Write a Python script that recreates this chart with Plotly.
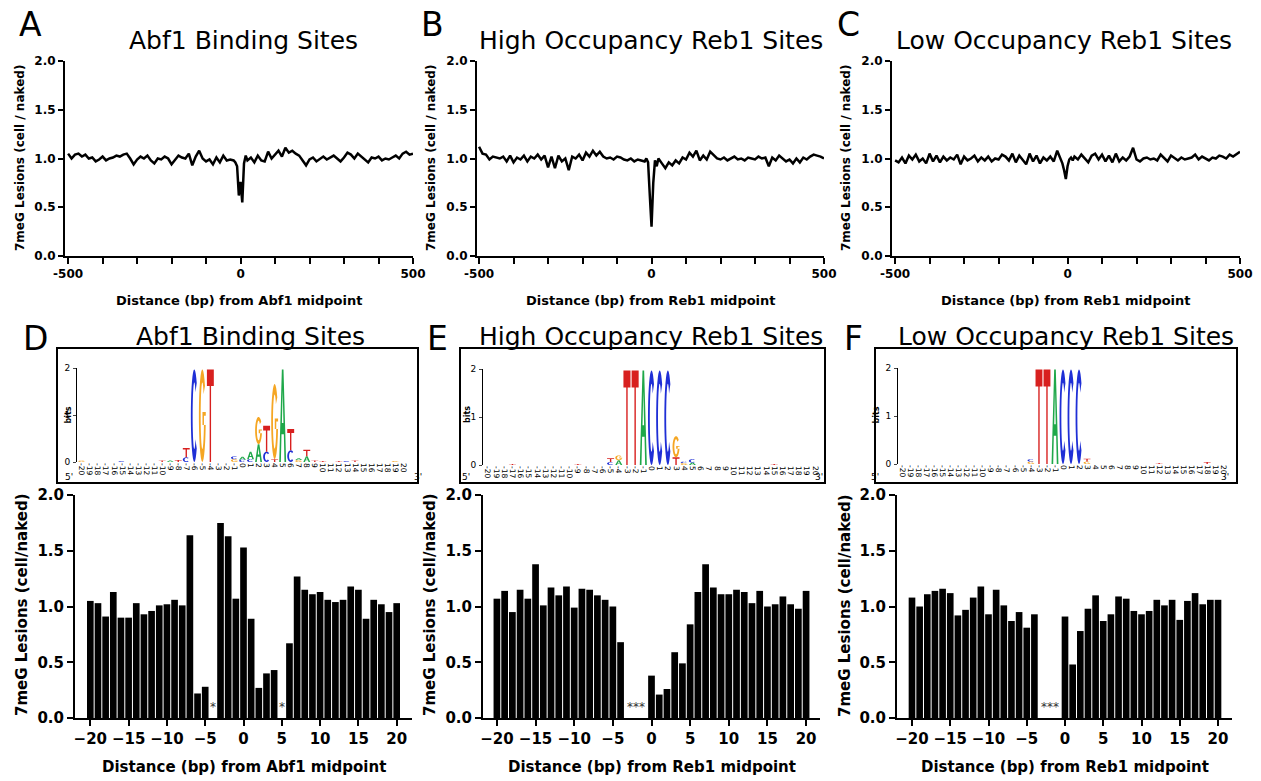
import math
import plotly.graph_objects as go

W, H = 1261, 781
PAD = 0
FW, FH = W - 2 * PAD, H - 2 * PAD

# ---------------- DATA ----------------
top_x = list(range(-500, -29, 10)) + list(range(-20, 21, 5)) + list(range(30, 501, 10))

abf1_profile = [
    1.05, 1.00, 1.04, 1.05, 1.02, 1.04, 1.00, 1.01, 0.97, 0.99,
    1.02, 0.98, 1.00, 1.01, 1.03, 1.02, 1.04, 1.05, 1.00, 0.94,
    0.99, 1.02, 1.00, 1.03, 0.98, 0.95, 1.00, 0.99, 1.02, 1.00,
    0.94, 0.99, 1.03, 1.01, 1.00, 1.05, 0.93, 1.02, 1.08, 1.00,
    0.97, 0.99, 0.94, 1.01, 0.96, 1.03, 0.98, 0.99,
    0.98, 0.96, 0.92, 0.62, 0.76, 0.55, 0.95, 1.03, 0.98,
    1.01, 0.96, 1.03, 0.98, 0.97, 1.07, 1.00, 1.04, 1.08, 1.02,
    1.11, 1.06, 1.08, 1.05, 1.03, 0.98, 0.93, 0.99, 1.01, 0.97,
    1.00, 1.02, 0.99, 1.01, 1.03, 1.00, 0.97, 1.01, 1.06, 1.04,
    1.00, 1.05, 1.02, 0.99, 0.96, 1.01, 1.00, 1.02, 0.98, 1.00,
    0.99, 1.01, 1.03, 1.00, 1.05, 1.07, 1.04, 1.05,
]

reb1_high_profile = [
    1.12, 1.05, 1.04, 0.99, 1.02, 1.01, 1.00, 1.02, 0.97, 1.03,
    0.96, 1.01, 0.99, 1.03, 0.97, 1.02, 1.00, 1.04, 0.99, 1.03,
    0.91, 1.02, 0.90, 1.03, 0.97, 1.00, 0.88, 1.02, 1.00, 1.04,
    0.98, 1.06, 1.02, 1.08, 1.03, 1.07, 1.02, 1.00, 1.01, 0.99,
    1.02, 1.01, 0.99, 0.98, 1.00, 0.97, 0.99, 0.98,
    0.97, 1.00, 0.96, 0.62, 0.30, 0.75, 0.98, 0.92, 1.00,
    0.95, 0.90, 0.96, 0.93, 0.98, 0.95, 1.01, 0.99, 1.06, 1.02,
    1.08, 0.98, 1.03, 0.99, 1.07, 1.03, 1.00, 0.99, 1.01, 0.98,
    1.00, 1.02, 0.99, 1.00, 0.98, 1.01, 1.00, 0.99, 1.02, 1.00,
    1.01, 0.92, 1.01, 0.98, 1.03, 1.00, 0.97, 0.99, 0.95, 1.00,
    0.96, 1.01, 0.99, 1.02, 1.04, 1.03, 1.02, 1.00,
]

reb1_low_profile = [
    0.98, 0.96, 1.01, 0.95, 1.03, 0.99, 1.04, 0.97, 1.00, 0.95,
    1.05, 0.97, 1.03, 0.96, 1.02, 0.98, 1.01, 0.99, 1.04, 0.94,
    1.02, 0.98, 1.00, 1.03, 0.97, 1.01, 0.98, 1.02, 0.97, 1.00,
    0.99, 1.04, 1.02, 0.98, 1.05, 0.96, 1.03, 0.99, 0.94, 1.05,
    0.97, 1.03, 0.95, 1.01, 0.98, 1.02, 0.97, 1.08,
    0.99, 0.95, 0.88, 0.79, 0.92, 0.99, 1.01, 0.98, 1.02,
    0.99, 1.04, 1.00, 0.96, 1.03, 1.05, 0.99, 1.04, 0.97, 1.03,
    0.96, 1.05, 0.97, 1.01, 0.98, 1.02, 1.11, 0.99, 0.97, 1.00,
    1.01, 0.99, 1.00, 0.98, 1.04, 1.00, 0.97, 1.03, 1.00, 0.98,
    1.01, 0.99, 1.00, 1.01, 1.04, 0.99, 1.02, 1.00, 0.98, 1.01,
    1.00, 1.03, 1.02, 1.00, 1.04, 1.02, 1.05, 1.07,
]

bar_x = list(range(-20, 21))

abf1_bars = [1.05, 1.03, 0.91, 1.13, 0.90, 0.90, 1.03, 0.93, 0.96, 1.01,
             1.02, 1.06, 1.01, 1.64, 0.22, 0.28, 0.00, 1.75, 1.63, 1.07,
             1.53, 0.89, 0.27, 0.40, 0.43, 0.00, 0.67, 1.27, 1.15, 1.11,
             1.13, 1.06, 1.04, 1.06, 1.18, 1.15, 0.89, 1.06, 1.02, 0.95, 1.03]

reb1_high_bars = [1.07, 1.14, 0.95, 1.15, 1.07, 1.38, 1.01, 1.17, 1.10, 1.18,
                  0.99, 1.16, 1.15, 1.10, 1.06, 1.00, 0.68, 0.00, 0.00, 0.00,
                  0.38, 0.21, 0.26, 0.59, 0.49, 0.84, 1.13, 1.38, 1.17, 1.11,
                  1.11, 1.15, 1.13, 1.03, 1.14, 1.00, 1.02, 1.09, 1.02, 0.98, 1.14]

reb1_low_bars = [1.08, 1.00, 1.11, 1.14, 1.16, 1.12, 0.92, 0.97, 1.08, 1.18,
                 0.93, 1.15, 1.01, 0.87, 0.95, 0.81, 0.93, 0.00, 0.00, 0.00,
                 0.91, 0.48, 0.78, 0.98, 1.10, 0.87, 0.93, 1.09, 1.07, 0.96,
                 0.93, 0.96, 1.06, 1.01, 1.06, 0.88, 1.05, 1.12, 1.02, 1.06, 1.06]

# significance marks (position, label)
abf1_stars = [(-4, "*"), (5, "*")]
reb1_high_stars = [(-2, "***")]
reb1_low_stars = [(-2, "***")]

# sequence logos: (position, letter, bits), stacked bottom to top in listed order
abf1_logo = [
    (-20, "G", 0.03), (-15, "C", 0.02), (-10, "T", 0.03), (-9, "A", 0.03), (-8, "T", 0.04),
    (-7, "C", 0.10), (-7, "T", 0.20),
    (-6, "C", 1.97), (-5, "G", 1.97), (-4, "T", 1.97),
    (-1, "G", 0.06), (-1, "C", 0.06),
    (0, "C", 0.05), (0, "A", 0.06),
    (1, "C", 0.06), (1, "A", 0.16),
    (2, "A", 0.38), (2, "G", 0.58),
    (3, "C", 0.22), (3, "T", 0.55),
    (4, "T", 0.06), (4, "G", 1.60),
    (5, "A", 1.97),
    (6, "C", 0.25), (6, "T", 0.45),
    (7, "G", 0.04), (7, "A", 0.04),
    (8, "A", 0.12), (8, "T", 0.14),
    (9, "T", 0.03), (10, "T", 0.02), (12, "T", 0.02), (13, "C", 0.02), (14, "T", 0.03), (19, "G", 0.02),
]

reb1_high_logo = [
    (-17, "T", 0.02), (-9, "T", 0.02),
    (-5, "C", 0.06), (-5, "T", 0.08),
    (-4, "A", 0.10), (-4, "G", 0.10),
    (-3, "T", 1.97), (-2, "T", 1.97), (-1, "A", 1.97),
    (0, "C", 1.97), (1, "C", 1.97), (2, "C", 1.97),
    (3, "T", 0.16), (3, "G", 0.44),
    (4, "G", 0.04), (4, "C", 0.03),
    (5, "A", 0.05), (5, "C", 0.07),
    (15, "T", 0.02),
]

reb1_low_logo = [
    (-4, "G", 0.05), (-4, "C", 0.05),
    (-3, "T", 1.97), (-2, "T", 1.97), (-1, "A", 1.97),
    (0, "C", 1.97), (1, "C", 1.97), (2, "C", 1.97),
    (3, "G", 0.05), (3, "T", 0.06),
    (12, "T", 0.02), (18, "T", 0.04),
]

panel_titles = ["Abf1 Binding Sites", "High Occupancy Reb1 Sites", "Low Occupancy Reb1 Sites"]
x_titles = ["Distance (bp) from Abf1 midpoint", "Distance (bp) from Reb1 midpoint",
            "Distance (bp) from Reb1 midpoint"]

# ---------------- STYLE / LAYOUT ----------------
FONT = "DejaVu Sans"
LETTER_COLORS = {"A": "#1fa84a", "C": "#1f2fd6", "G": "#f5a623", "T": "#d8201f"}


def fx(p):
    return (p - PAD) / FW


def fy(p):
    return 1 - (p - PAD) / FH


def letter_path(ch, xc, y0, h, w=0.86):
    x0 = xc - w / 2

    def P(u, v):
        return f"{x0 + u * w:.4f},{y0 + v * h:.4f}"

    def poly(pts):
        return "M" + "L".join(P(u, v) for u, v in pts) + "Z"

    def ring(a0, a1, n=28):
        outer = []
        inner = []
        for i in range(n + 1):
            a = math.radians(a0 + (a1 - a0) * i / n)
            outer.append((0.5 + 0.5 * math.cos(a), 0.5 + 0.5 * math.sin(a)))
            inner.append((0.5 + 0.24 * math.cos(a), 0.5 + 0.36 * math.sin(a)))
        return outer + inner[::-1]

    if ch == "T":
        return poly([(0, 1), (1, 1), (1, 0.82), (0.6, 0.82), (0.6, 0), (0.4, 0), (0.4, 0.82), (0, 0.82)])
    if ch == "A":
        outer = poly([(0, 0), (0.38, 1), (0.62, 1), (1, 0), (0.76, 0), (0.67, 0.3), (0.33, 0.3), (0.24, 0)])
        hole = poly([(0.39, 0.42), (0.61, 0.42), (0.5, 0.78)])
        return outer + hole
    if ch == "C":
        return poly(ring(45, 315))
    if ch == "G":
        return poly(ring(40, 360)) + poly([(0.52, 0.40), (1, 0.40), (1, 0.54), (0.52, 0.54)])
    return ""


fig = go.Figure()

top_profiles = [abf1_profile, reb1_high_profile, reb1_low_profile]
bar_sets = [abf1_bars, reb1_high_bars, reb1_low_bars]
star_sets = [abf1_stars, reb1_high_stars, reb1_low_stars]
logos = [abf1_logo, reb1_high_logo, reb1_low_logo]

# pixel geometry (screen pixels)
top_dom = [(65, 413, [-509, 500]), (477, 824, [-506, 500]), (892, 1240, [-509, 500])]
bar_dom = [(75, 412, [-22, 22]), (483, 820, [-21.8, 21.8]), (897, 1232, [-21.96, 21.83])]
logo_dom = [(77, 408, 368, 462), (483, 820, 369, 465), (898, 1228, 368, 464)]
logo_box = [(57, 418), (460, 825), (875, 1237)]
letter_pos = [(30, 24), (432, 24), (848, 24)]
letter_pos2 = [(35, 338), (437, 338), (853, 338)]
title_x = [243, 651, 1064]
title_x2 = [251, 651, 1066]
ylab_x_top = [20, 431, 846]
ylab_x_bot = [22, 430, 845]

axis_common = dict(showgrid=False, zeroline=False, showline=True, linecolor="black", automargin=False,
                   linewidth=2, ticks="outside", tickcolor="black", tickwidth=2)

layout = dict(width=FW, height=FH, margin=dict(l=0, r=0, t=0, b=0, autoexpand=False),
              plot_bgcolor="white", paper_bgcolor="white", showlegend=False,
              font=dict(family=FONT, color="black"), bargap=0.13)
annotations = []
shapes = []

for i in range(3):
    # ---- top line chart ----
    n = i + 1
    sfx = '' if n == 1 else str(n)
    x0, x1, xr = top_dom[i]
    layout[f"xaxis{sfx}"] = dict(axis_common, domain=[fx(x0), fx(x1)], range=xr, anchor=f"y{sfx}",
                                 tickvals=list(range(-500, 501, 100)),
                                 ticktext=["-500", "", "", "", "", "0", "", "", "", "", "500"],
                                 ticklen=6, tickfont=dict(size=12, weight="bold"))
    layout[f"yaxis{sfx}"] = dict(axis_common, domain=[fy(256), fy(61)], range=[0, 2], anchor=f"x{sfx}",
                                 tickvals=[0, 0.5, 1, 1.5, 2], ticktext=["0.0", "0.5", "1.0", "1.5", "2.0"],
                                 ticklen=5, tickfont=dict(size=12, weight="bold"))
    fig.add_trace(go.Scatter(x=top_x, y=top_profiles[i], mode="lines",
                             line=dict(color="black", width=2.5),
                             xaxis=f"x{sfx}", yaxis=f"y{sfx}"))
    annotations.append(dict(text=panel_titles[i], x=fx(title_x[i]), y=fy(40), xref="paper", yref="paper",
                            showarrow=False, font=dict(size=25, family=FONT), xanchor="center", yanchor="middle"))
    annotations.append(dict(text="ABC"[i], x=fx(letter_pos[i][0]), y=fy(letter_pos[i][1]), xref="paper",
                            yref="paper", showarrow=False, font=dict(size=33, family=FONT),
                            xanchor="center", yanchor="middle"))
    annotations.append(dict(text=f"<b>{x_titles[i]}</b>", x=fx((x0 + x1) / 2), y=fy(300), xref="paper",
                            yref="paper", showarrow=False, font=dict(size=13, family=FONT),
                            xanchor="center", yanchor="middle"))
    annotations.append(dict(text="<b>7meG Lesions (cell / naked)</b>", x=fx(ylab_x_top[i]), y=fy(158),
                            xref="paper", yref="paper", showarrow=False, textangle=-90,
                            font=dict(size=12, family=FONT), xanchor="center", yanchor="middle"))

    # ---- logo ----
    n = i + 4
    lx0, lx1, ly_top, ly_bot = logo_dom[i]
    layout[f"xaxis{n}"] = dict(domain=[fx(lx0), fx(lx1)], range=[-20.6, 20.6], anchor=f"y{n}",
                               automargin=False,
                               showgrid=False, zeroline=False, showline=False, ticks="",
                               tickvals=list(range(-20, 21)), ticktext=[str(v) for v in range(-20, 21)],
                               tickangle=90, tickfont=dict(size=7.5, family=FONT), ticklabelstandoff=0)
    layout[f"yaxis{n}"] = dict(domain=[fy(ly_bot), fy(ly_top)], range=[0, 2], anchor=f"x{n}",
                               automargin=False,
                               showgrid=False, zeroline=False, showline=True, linecolor="black", linewidth=1,
                               ticks="outside", ticklen=3, tickwidth=1, tickvals=[0, 1, 2],
                               ticklabelstandoff=1, tickfont=dict(size=9, family=FONT))
    fig.add_trace(go.Scatter(x=[-20.6, 20.6], y=[0, 0], mode="lines", line=dict(width=0),
                             xaxis=f"x{n}", yaxis=f"y{n}", hoverinfo="skip"))
    stack = {}
    for pos, ch, bits in logos[i]:
        base = stack.get(pos, 0.0)
        shapes.append(dict(type="path", path=letter_path(ch, pos, base, bits), xref=f"x{n}", yref=f"y{n}",
                           fillcolor=LETTER_COLORS[ch], line=dict(width=0), layer="above"))
        stack[pos] = base + bits
    bx0, bx1 = logo_box[i]
    shapes.append(dict(type="rect", xref="paper", yref="paper", x0=fx(bx0), x1=fx(bx1), y0=fy(483), y1=fy(348),
                       line=dict(color="black", width=2), fillcolor="rgba(0,0,0,0)"))
    annotations.append(dict(text="<b>bits</b>", x=fx(lx0 - 16), y=fy(415), xref="paper", yref="paper",
                            showarrow=False, textangle=-90, font=dict(size=8, family=FONT)))
    annotations.append(dict(text="5'", x=fx(bx0 + 6), y=fy(477), xref="paper", yref="paper",
                            showarrow=False, font=dict(size=9, family=FONT)))
    annotations.append(dict(text="3'", x=fx(bx1 - 6), y=fy(477), xref="paper", yref="paper",
                            showarrow=False, font=dict(size=9, family=FONT)))
    annotations.append(dict(text=panel_titles[i], x=fx(title_x2[i]), y=fy(336), xref="paper", yref="paper",
                            showarrow=False, font=dict(size=25, family=FONT), xanchor="center", yanchor="middle"))
    annotations.append(dict(text="DEF"[i], x=fx(letter_pos2[i][0]), y=fy(letter_pos2[i][1]), xref="paper",
                            yref="paper", showarrow=False, font=dict(size=33, family=FONT),
                            xanchor="center", yanchor="middle"))

    # ---- bar chart ----
    n = i + 7
    b0, b1, br = bar_dom[i]
    layout[f"xaxis{n}"] = dict(axis_common, domain=[fx(b0), fx(b1)], range=br, anchor=f"y{n}",
                               tickvals=list(range(-20, 21, 5)), ticklen=6,
                               tickfont=dict(size=15, weight="bold"))
    layout[f"yaxis{n}"] = dict(axis_common, domain=[fy(718), fy(495)], range=[0, 2], anchor=f"x{n}",
                               tickvals=[0, 0.5, 1, 1.5, 2], ticktext=["0.0", "0.5", "1.0", "1.5", "2.0"],
                               ticklen=6, tickfont=dict(size=15, weight="bold"))
    fig.add_trace(go.Bar(x=bar_x, y=bar_sets[i], marker=dict(color="black", line=dict(width=0)),
                         xaxis=f"x{n}", yaxis=f"y{n}"))
    for pos, lab in star_sets[i]:
        annotations.append(dict(text=lab, x=pos, y=0.02, xref=f"x{n}", yref=f"y{n}", showarrow=False,
                                yanchor="bottom", font=dict(size=12, color="#333333", family=FONT)))
    annotations.append(dict(text=f"<b>{x_titles[i]}</b>", x=fx((b0 + b1) / 2), y=fy(767), xref="paper",
                            yref="paper", showarrow=False, font=dict(size=15, family=FONT),
                            xanchor="center", yanchor="middle"))
    annotations.append(dict(text="<b>7meG Lesions (cell/naked)</b>", x=fx(ylab_x_bot[i]), y=fy(605),
                            xref="paper", yref="paper", showarrow=False, textangle=-90,
                            font=dict(size=15, family=FONT), xanchor="center", yanchor="middle"))

layout["annotations"] = annotations
layout["shapes"] = shapes
fig.update_layout(**layout)
fig.write_html("out.html", config={"displayModeBar": False},
               post_script="document.body.style.margin='0';document.body.style.overflow='hidden';")
